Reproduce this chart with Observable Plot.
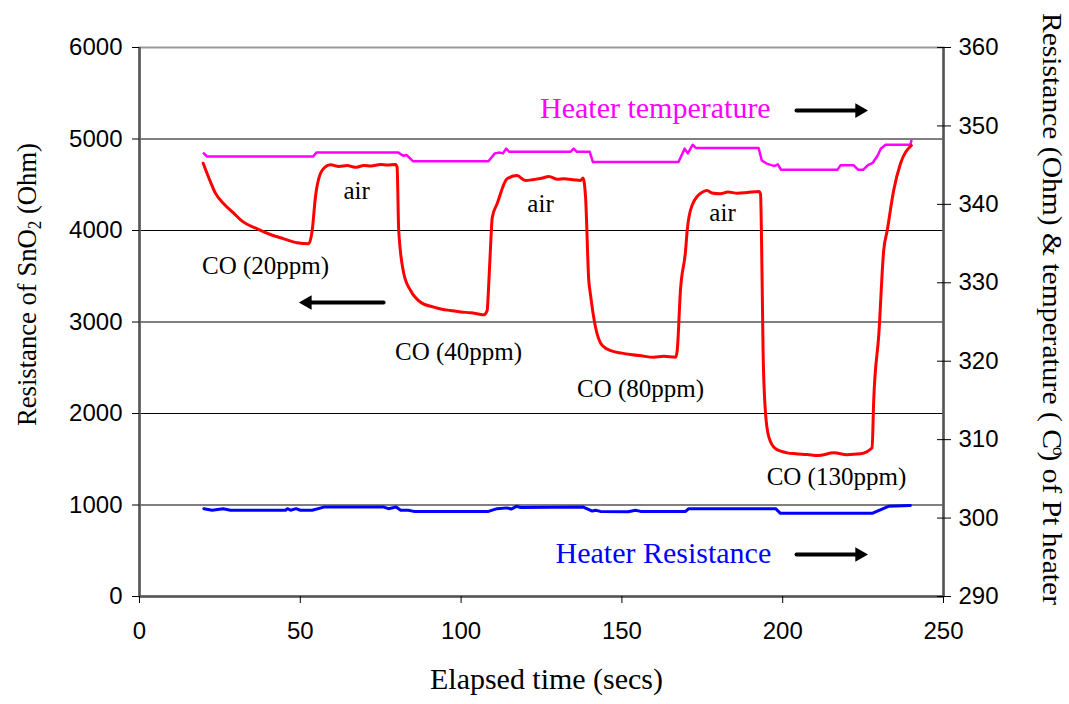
<!DOCTYPE html>
<html>
<head>
<meta charset="utf-8">
<script src="https://cdn.jsdelivr.net/npm/d3@7"></script>
<script src="https://cdn.jsdelivr.net/npm/@observablehq/plot@0.6"></script>
<style>
  html, body { margin: 0; padding: 0; background: white; }
  svg { overflow: visible; }
</style>
</head>
<body>
<div id="chart"></div>
<script>
// ---- SnO2 sensor resistance (Ohm, left axis) ----
const sensorTime = [19.8,22.1,23.6,26.2,29.3,31.9,36.6,40.7,44.9,49.0,52.6,53.7,54.7,56.8,59.4,62,64.6,67,69.8,72,74.9,77,79.6,80.1,80.6,
  82.2,84.3,87.4,91.5,94,96.7,100,102.9,105,107.1,108.1,108.6,109.1,109.7,111.2,114.3,117.4,120,122.6,125,127.3,130,131.9,135,137.1,137.9,138.7,139.7,
  140.2,141.8,143.9,147,150,152.7,156,159.9,163,166.7,167.2,168.2,169.8,170.3,171.8,175,176.5,178,180.6,183,185.9,189,192.6,193.1,193.6,
  193.9,194.6,195.7,197.8,201.4,204,207.6,211,215.9,220,224.2,227.8,228.3,229.9,231.4,232.5,234.5,236.6,240];
const sensorOhm = [4735,4528,4408,4292,4189,4102,4018,3956,3909,3866,3855,4000,4364,4656,4718,4700,4710,4690,4710,4705,4721,4715,4721,4692,4000,
  3527,3344,3216,3162,3140,3126,3110,3100,3090,3079,3126,3417,3781,4145,4292,4565,4601,4546,4557,4570,4590,4560,4565,4555,4546,4575,4364,3454,
  3308,2943,2743,2681,2660,2645,2630,2615,2625,2615,2689,3344,3781,4000,4273,4418,4437,4410,4401,4420,4408,4415,4426,4401,3454,
  2689,2033,1741,1614,1570,1560,1552,1540,1570,1550,1559,1625,2142,2871,3781,4000,4437,4729,4929];

// ---- Heater temperature (°C, right axis) ----
const tempTime = [20,21,54,55,80.5,82,83,85,108.5,110.5,112,113,114,115,134,135,136,140,141,167.6,169.5,170.5,172,173,192.5,193.5,195,196.5,197.5,198.5,199.5,
  217,218,222,223.5,225,226.5,228,229.5,230.5,232,239.7,240];
const tempC = [346.5,346.1,346.1,346.6,346.6,346.2,346.3,345.5,345.5,346.5,346.6,346.5,347.1,346.7,346.7,347.1,346.7,346.7,345.4,345.4,347.1,346.5,347.6,347.2,347.2,345.6,345.2,345.0,344.9,345.1,344.4,
  344.4,345.0,345.0,344.4,344.4,345.0,345.3,346.2,347.1,347.6,347.6,348.1];

// ---- Heater resistance (Ohm, right axis) ----
const heaterTime = [20,22.6,26,28.3,45.4,46,47,48.7,50,53.7,57.3,76,77.4,79.8,81.2,83.6,85.3,108.5,111.2,114.3,115.6,117.2,118.5,138,140.8,141.8,143.3,152,154.2,155.8,169.8,170.8,197.8,199.3,227.8,230.9,232.9,239.7];
const heaterOhm = [301.2,301.0,301.2,301.0,301.0,301.2,301.0,301.2,301.0,301.0,301.4,301.4,301.2,301.4,301.0,301.0,300.85,300.85,301.2,301.3,301.15,301.5,301.35,301.4,300.9,301.0,300.85,300.8,301.0,300.85,300.85,301.2,301.2,300.6,300.6,301.15,301.5,301.6];

// ---- Axes ----
const xTicks = [0, 50, 100, 150, 200, 250];
const leftTicks = [0, 1000, 2000, 3000, 4000, 5000, 6000];
const gridValues = [1000, 2000, 3000, 4000, 5000];
const rightTicks = [290, 300, 310, 320, 330, 340, 350, 360];
const rightMin = 290, rightMax = 360, leftMax = 6000;

// ---- Annotations ----
const labelText = ["air", "air", "air", "CO (20ppm)", "CO (40ppm)", "CO (80ppm)", "CO (130ppm)"];
const labelTime = [67.5, 124.7, 181.3, 39.2, 99.2, 155.8, 216.7];
const labelOhm  = [4437, 4295, 4186, 3617, 2667, 2273, 1301];
const seriesText = ["Heater temperature", "Heater Resistance"];
const seriesTime = [160.4, 162.9];
const seriesOhm = [5333, 470];
const seriesColor = ["#ff00ff", "#0000ff"];
const arrowFrom = [204.3, 204.3, 75.9];
const arrowTo   = [223.9, 223.9, 52.2];
const arrowOhm  = [5311, 459, 3213];
const arrowDir  = [90, 90, -90];

const leftTitle = "Resistance of SnO2 (Ohm)";
const rightTitle = "Resistance (Ohm) & temperature ( Co) of Pt heater";
const xTitle = "Elapsed time (secs)";

const toLeft = v => (v - rightMin) * leftMax / (rightMax - rightMin);

const sensor = sensorTime.map((t, i) => ({t, v: sensorOhm[i]}));
const temp = tempTime.map((t, i) => ({t, v: tempC[i]}));
const heater = heaterTime.map((t, i) => ({t, v: heaterOhm[i]}));
const labels = labelText.map((s, i) => ({s, t: labelTime[i], v: labelOhm[i]}));
const slabels = seriesText.map((s, i) => ({s, t: seriesTime[i], v: seriesOhm[i], c: seriesColor[i]}));
const arrows = arrowFrom.map((a, i) => ({a, b: arrowTo[i], v: arrowOhm[i], r: arrowDir[i]}));

const serif = "'Liberation Serif', 'Times New Roman', serif";

const chart = Plot.plot({
  width: 1069,
  height: 704,
  marginLeft: 139,
  marginRight: 126,
  marginTop: 47,
  marginBottom: 108,
  x: {domain: [0, 250]},
  y: {domain: [0, 6000]},
  style: {fontFamily: "'Liberation Sans', Arial, sans-serif", fontSize: "24px", background: "white", color: "black"},
  marks: [
    Plot.ruleY(gridValues, {stroke: "black", strokeWidth: 1}),
    Plot.frame({stroke: "#999", strokeWidth: 2}),
    Plot.ruleX([0, 250], {stroke: "#555", strokeWidth: 2.5}),
    Plot.ruleY([0], {stroke: "#555", strokeWidth: 2.5}),
    Plot.axisX({ticks: xTicks, tickSize: 7, tickPadding: 18, tickFormat: d => String(d), label: null, fontSize: 24}),
    Plot.axisY({anchor: "left", ticks: leftTicks, tickSize: 7, tickPadding: 10, tickFormat: d => String(d), label: null, fontSize: 24}),
    Plot.axisY({anchor: "right", ticks: rightTicks.map(toLeft), tickSize: 7, tickPadding: 8,
      tickFormat: d => String(Math.round(rightMin + d * (rightMax - rightMin) / leftMax)), label: null, fontSize: 24}),
    Plot.axisY({anchor: "right", ticks: rightTicks.map(toLeft), tickSize: 7, dx: -7, text: null, label: null}),
    Plot.line(heater, {x: "t", y: d => toLeft(d.v), stroke: "#0000ff", strokeWidth: 3}),
    Plot.line(temp, {x: "t", y: d => toLeft(d.v), stroke: "#ff00ff", strokeWidth: 2.5}),
    Plot.line(sensor, {x: "t", y: "v", stroke: "#ff0000", strokeWidth: 3, curve: "monotone-x"}),
    Plot.text(labels, {x: "t", y: "v", text: "s", fontFamily: serif, fontSize: 25, fill: "black"}),
    Plot.text(slabels, {x: "t", y: "v", text: "s", fill: "c", fontFamily: serif, fontSize: 30}),
    Plot.link(arrows, {x1: "a", x2: "b", y1: "v", y2: "v", stroke: "black", strokeWidth: 4, strokeLinecap: "round"}),
    Plot.dot(arrows, {x: "b", y: "v", symbol: "triangle2", r: 7, fill: "black", rotate: "r"}),
    Plot.text([leftTitle], {frameAnchor: "left", dx: -112, dy: 104, rotate: -90, textAnchor: "start", fontFamily: serif, fontSize: 28}),
    Plot.text([rightTitle], {frameAnchor: "right", dx: 108, dy: -309, rotate: 90, textAnchor: "start", fontFamily: serif, fontSize: 28}),
    Plot.text([xTitle], {frameAnchor: "bottom", dx: 5, dy: 92, fontFamily: serif, fontSize: 30})
  ]
});

// subscript / superscript and fitted lengths for titles
const svg = d3.select(chart);
svg.selectAll("text").each(function () {
  const el = d3.select(this);
  const s = el.text();
  if (s === leftTitle) {
    el.text(null);
    el.append("tspan").text("Resistance of SnO");
    el.append("tspan").attr("font-size", 18).attr("dy", 5).text("2");
    el.append("tspan").attr("dy", -5).text(" (Ohm)");
    el.attr("textLength", 283).attr("lengthAdjust", "spacingAndGlyphs");
  } else if (s === rightTitle) {
    el.text(null);
    el.append("tspan").text("Resistance (Ohm) & temperature ( C");
    el.append("tspan").attr("font-size", 17).attr("dy", -10).attr("dx", -2).text("o");
    el.append("tspan").attr("dy", 10).attr("dx", -4).text(") of Pt heater");
    el.attr("textLength", 592).attr("lengthAdjust", "spacingAndGlyphs");
  } else if (s === xTitle) {
    el.attr("textLength", 233).attr("lengthAdjust", "spacingAndGlyphs");
  }
});
document.getElementById("chart").appendChild(chart);
</script>
</body>
</html>
